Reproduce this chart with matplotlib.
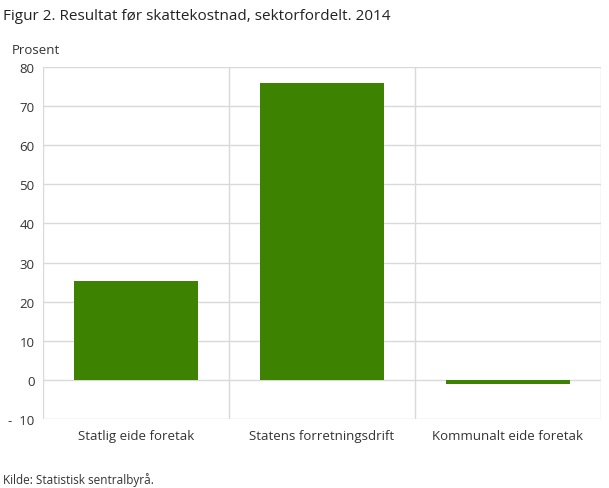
import matplotlib
matplotlib.use("Agg")
import matplotlib.pyplot as plt
from matplotlib.ticker import FixedLocator

categories = ["Statlig eide foretak", "Statens forretningsdrift", "Kommunalt eide foretak"]
values = [25.3, 75.9, -1.0]
yticks = [-10, 0, 10, 20, 30, 40, 50, 60, 70, 80]
ytick_labels = ["-  10", "0", "10", "20", "30", "40", "50", "60", "70", "80"]

plt.rcParams['font.family'] = ['Open Sans', 'DejaVu Sans']

W, H = 609, 489
fig = plt.figure(figsize=(W/100, H/100), dpi=100)
ax = fig.add_axes([43/W, 1-420/H, (601-43)/W, (420-68)/H])

x = list(range(len(categories)))
ax.bar(x, values, width=0.67, color="#3d8200", zorder=3)
ax.set_xlim(-0.5, len(categories)-0.5)
ax.set_ylim(-10, 80)
ax.yaxis.set_major_locator(FixedLocator(yticks))
ax.set_yticklabels(ytick_labels)
ax.set_xticks(x)
ax.set_xticklabels(categories)
ax.xaxis.set_minor_locator(FixedLocator([i + 0.5 for i in range(-1, len(categories))]))

ax.grid(axis='y', which='major', color='#d9d9d9', linewidth=1, zorder=0)
ax.grid(axis='x', which='minor', color='#d9d9d9', linewidth=1, zorder=0)
ax.grid(axis='x', which='major', visible=False)
for s in ax.spines.values():
    s.set_visible(False)
ax.tick_params(axis='both', which='both', length=0, labelsize=9.5, colors='#333333')
ax.tick_params(axis='x', pad=7)
ax.tick_params(axis='y', pad=6)

fig.text(3/W, 1-17/H, "Figur 2. Resultat før skattekostnad, sektorfordelt. 2014",
         fontsize=11, color='#222222', va='center', ha='left')
fig.text(12/W, 1-50/H, "Prosent", fontsize=9.5, color='#333333', va='center', ha='left')
fig.text(3/W, 1-480/H, "Kilde: Statistisk sentralbyrå.", fontsize=8.5, color='#333333', va='center', ha='left')

fig.savefig("out.png", dpi=100)
